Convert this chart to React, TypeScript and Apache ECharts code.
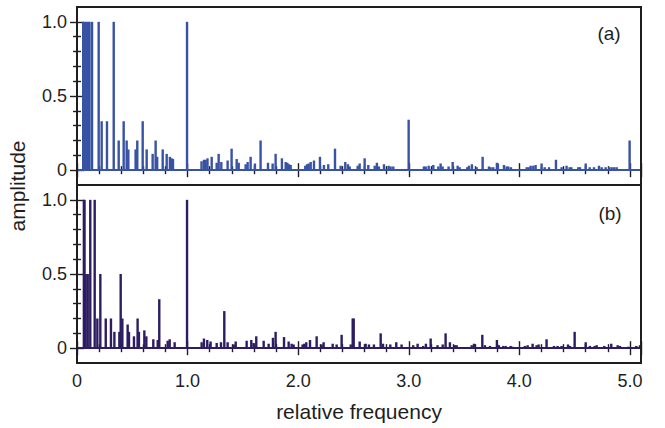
import React, { useEffect, useRef } from 'react';
import * as echarts from 'echarts';

// Panel (a): relative frequency / amplitude
const freqA = [
  0.056, 0.068, 0.08, 0.092, 0.104, 0.113, 0.136, 0.196, 0.223, 0.271, 0.332, 0.377, 0.422, 0.449, 0.464,
  0.53, 0.545, 0.594, 0.63, 0.684, 0.711, 0.725, 0.775, 0.811, 0.84, 0.856, 0.868, 0.995,
  1.126, 1.148, 1.163, 1.18, 1.218, 1.263, 1.281, 1.305, 1.362, 1.398, 1.444, 1.462, 1.525, 1.543, 1.57,
  1.609, 1.66, 1.727, 1.769, 1.796, 1.853, 1.887, 1.902, 1.917, 1.932,
  2.064, 2.08, 2.095, 2.113, 2.143, 2.197, 2.233, 2.272, 2.333, 2.384, 2.426, 2.45, 2.466, 2.538, 2.556,
  2.601, 2.634, 2.692, 2.712, 2.73, 2.776, 2.818, 2.836, 2.86, 2.999,
  3.137, 3.153, 3.18, 3.222, 3.267, 3.288, 3.306, 3.36, 3.397, 3.442, 3.46, 3.529, 3.544, 3.571, 3.614,
  3.668, 3.725, 3.74, 3.764, 3.797, 3.806, 3.861, 3.885, 3.9, 3.924,
  4.066, 4.084, 4.102, 4.126, 4.147, 4.201, 4.229, 4.268, 4.331, 4.382, 4.427, 4.455, 4.47, 4.533, 4.548,
  4.6, 4.636, 4.675, 4.72, 4.744, 4.78, 4.813, 4.835, 4.858, 4.88, 4.997,
];
const ampA = [
  1.0, 1.0, 1.0, 1.0, 1.0, 1.0, 1.0, 1.0, 0.33, 0.33, 1.0, 0.2, 0.33, 0.2, 0.14,
  0.14, 0.2, 0.33, 0.14, 0.11, 0.2, 0.09, 0.14, 0.11, 0.09, 0.08, 0.075, 1.0,
  0.06, 0.07, 0.07, 0.08, 0.09, 0.05, 0.11, 0.055, 0.065, 0.145, 0.075, 0.05, 0.04, 0.055, 0.09,
  0.045, 0.2, 0.05, 0.045, 0.11, 0.08, 0.055, 0.05, 0.04, 0.035,
  0.03, 0.04, 0.045, 0.055, 0.065, 0.09, 0.035, 0.04, 0.145, 0.03, 0.055, 0.04, 0.025, 0.03, 0.045,
  0.08, 0.035, 0.03, 0.05, 0.025, 0.04, 0.03, 0.025, 0.025, 0.34,
  0.025, 0.025, 0.03, 0.035, 0.025, 0.045, 0.025, 0.025, 0.055, 0.03, 0.02, 0.02, 0.03, 0.04, 0.02,
  0.09, 0.025, 0.02, 0.02, 0.05, 0.045, 0.035, 0.025, 0.025, 0.02,
  0.02, 0.02, 0.03, 0.03, 0.035, 0.045, 0.02, 0.02, 0.07, 0.02, 0.03, 0.02, 0.02, 0.02, 0.02,
  0.045, 0.02, 0.02, 0.03, 0.02, 0.02, 0.02, 0.02, 0.02, 0.02, 0.2,
];

// Panel (b)
const freqB = [
  0.062, 0.068, 0.078, 0.097, 0.12, 0.16, 0.184, 0.211, 0.26, 0.307, 0.338, 0.383, 0.395, 0.41, 0.458,
  0.47, 0.515, 0.548, 0.56, 0.609, 0.627, 0.69, 0.73, 0.744, 0.82, 0.838, 0.883, 0.995,
  1.127, 1.148, 1.178, 1.208, 1.263, 1.302, 1.332, 1.362, 1.417, 1.435, 1.534, 1.576, 1.597, 1.621,
  1.688, 1.733, 1.772, 1.796, 1.872, 1.914, 1.941, 1.959,
  2.04, 2.055, 2.073, 2.107, 2.167, 2.212, 2.23, 2.312, 2.348, 2.393, 2.475, 2.493, 2.502, 2.556, 2.61,
  2.64, 2.685, 2.746, 2.767, 2.833, 2.887, 2.935,
  3.04, 3.08, 3.13, 3.155, 3.198, 3.26, 3.307, 3.333, 3.372, 3.418, 3.433, 3.569, 3.59, 3.665, 3.689,
  3.734, 3.797, 3.815, 3.855, 3.876, 3.921, 3.936,
  4.05, 4.075, 4.12, 4.156, 4.174, 4.246, 4.313, 4.346, 4.382, 4.44, 4.458, 4.5, 4.6, 4.638, 4.681,
  4.699, 4.768, 4.831, 4.889, 4.91, 4.985, 5.057, 5.09,
];
const ampB = [
  1.0, 1.0, 0.5, 0.5, 1.0, 1.0, 0.2, 0.5, 0.2, 0.2, 0.11, 0.11, 0.5, 0.2, 0.16,
  0.11, 0.08, 0.2, 0.11, 0.12, 0.08, 0.06, 0.055, 0.33, 0.05, 0.06, 0.04, 1.0,
  0.04, 0.065, 0.055, 0.045, 0.035, 0.04, 0.25, 0.04, 0.025, 0.045, 0.05, 0.055, 0.035, 0.08,
  0.05, 0.03, 0.07, 0.11, 0.075, 0.045, 0.03, 0.025,
  0.025, 0.03, 0.04, 0.055, 0.08, 0.025, 0.04, 0.03, 0.025, 0.09, 0.025, 0.2, 0.2, 0.045, 0.03,
  0.025, 0.025, 0.1, 0.03, 0.025, 0.04, 0.025,
  0.02, 0.03, 0.015, 0.03, 0.065, 0.02, 0.025, 0.1, 0.04, 0.02, 0.02, 0.02, 0.03, 0.09, 0.02,
  0.015, 0.055, 0.02, 0.015, 0.015, 0.015, 0.01,
  0.015, 0.02, 0.03, 0.02, 0.025, 0.06, 0.015, 0.015, 0.015, 0.025, 0.015, 0.11, 0.04, 0.015, 0.015,
  0.02, 0.015, 0.03, 0.02, 0.015, 0.01, 0.015, 0.02,
];

const xMin = 0;
const xMax = 5.1;
const xInterval = 1;
const yMin = 0;
const yMax = 1;
const yInterval = 0.5;
const panelLabels = ['(a)', '(b)'];
const xName = 'relative frequency';
const yName = 'amplitude';

const COLOR_A = '#3853a4';
const COLOR_B = '#2c1d63';
const INK = '#1e1e1e';
const FONT = "'Liberation Sans', Arial, Helvetica, sans-serif";

export default function App() {
  const ref = useRef<HTMLDivElement>(null);

  useEffect(() => {
    document.body.style.margin = '0';
    if (!ref.current) return;
    const chart = echarts.init(ref.current, undefined, { renderer: 'svg' });

    const left = 77;
    const right = 641;
    const boxTopA = 7;
    const boxH = 178;
    const boxTopB = boxTopA + boxH;
    const pad = boxH / 12; // 0.1 of the y range above and below
    const gridH = boxH - 2 * pad;

    const grids = [
      { left, top: boxTopA + pad, width: right - left, height: gridH },
      { left, top: boxTopB + pad, width: right - left, height: gridH },
    ];

    const tickStyle = { color: INK, width: 1.4 };

    const makeX = (gridIndex: number, position: 'top' | 'bottom', labels: boolean) => ({
      gridIndex,
      type: 'value',
      position,
      offset: pad,
      min: xMin,
      max: xMax,
      interval: xInterval,
      axisLine: { show: false },
      axisTick: { show: true, inside: true, length: 7, lineStyle: tickStyle },
      minorTick: { show: true, splitNumber: 5, length: 4, lineStyle: tickStyle },
      splitLine: { show: false },
      minorSplitLine: { show: false },
      axisLabel: {
        show: labels,
        color: INK,
        fontSize: 18,
        fontFamily: FONT,
        margin: 9,
        formatter: (v: number) =>
          Math.abs(v - Math.round(v)) > 1e-6 ? '' : v === 0 ? '0' : v.toFixed(1),
      },
      name: labels ? xName : '',
      nameLocation: 'middle',
      nameGap: 38,
      nameTextStyle: { color: INK, fontSize: 21, fontFamily: FONT },
    });

    const makeY = (gridIndex: number, position: 'left' | 'right', labels: boolean) => ({
      gridIndex,
      type: 'value',
      position,
      min: yMin,
      max: yMax,
      interval: yInterval,
      axisLine: { show: false },
      axisTick: { show: true, inside: true, length: 7, lineStyle: tickStyle },
      minorTick: { show: true, splitNumber: 5, length: 4, lineStyle: tickStyle },
      splitLine: { show: false },
      minorSplitLine: { show: false },
      axisLabel: {
        show: labels,
        color: INK,
        fontSize: 18,
        fontFamily: FONT,
        margin: 10,
        formatter: (v: number) => (v === 0 ? '0' : v.toFixed(1)),
      },
    });

    const baseline = (color: string) => ({
      silent: true,
      symbol: ['none', 'none'],
      label: { show: false },
      lineStyle: { color, width: 2.2, type: 'solid' },
      data: [{ yAxis: 0 }],
    });

    const option: any = {
      animation: false,
      grid: grids,
      xAxis: [
        makeX(0, 'bottom', false),
        makeX(0, 'top', false),
        makeX(1, 'bottom', true),
        makeX(1, 'top', false),
      ],
      yAxis: [
        makeY(0, 'left', true),
        makeY(0, 'right', false),
        makeY(1, 'left', true),
        makeY(1, 'right', false),
      ],
      series: [
        {
          type: 'bar',
          xAxisIndex: 0,
          yAxisIndex: 0,
          barWidth: 2.4,
          itemStyle: { color: COLOR_A },
          data: freqA.map((f, i) => [f, ampA[i]]),
          markLine: baseline(COLOR_A),
        },
        {
          type: 'bar',
          xAxisIndex: 2,
          yAxisIndex: 2,
          barWidth: 2.4,
          itemStyle: { color: COLOR_B },
          data: freqB.map((f, i) => [f, ampB[i]]),
          markLine: baseline(COLOR_B),
        },
      ],
      graphic: [
        {
          type: 'rect',
          silent: true,
          z: 100,
          shape: { x: left, y: boxTopA, width: right - left, height: boxH },
          style: { fill: 'none', stroke: INK, lineWidth: 2 },
        },
        {
          type: 'rect',
          silent: true,
          z: 100,
          shape: { x: left, y: boxTopB, width: right - left, height: boxH },
          style: { fill: 'none', stroke: INK, lineWidth: 2 },
        },
        {
          type: 'text',
          x: 609,
          y: 33,
          style: {
            text: panelLabels[0],
            fill: INK,
            font: `19px ${FONT}`,
            align: 'center',
            verticalAlign: 'middle',
          },
        },
        {
          type: 'text',
          x: 610,
          y: 213,
          style: {
            text: panelLabels[1],
            fill: INK,
            font: `19px ${FONT}`,
            align: 'center',
            verticalAlign: 'middle',
          },
        },
        {
          type: 'text',
          x: 17,
          y: 186,
          rotation: Math.PI / 2,
          style: {
            text: yName,
            fill: INK,
            font: `21px ${FONT}`,
            align: 'center',
            verticalAlign: 'middle',
          },
        },
      ],
    };

    chart.setOption(option);
    return () => chart.dispose();
  }, []);

  return <div ref={ref} style={{ width: 665, height: 428 }} />;
}
